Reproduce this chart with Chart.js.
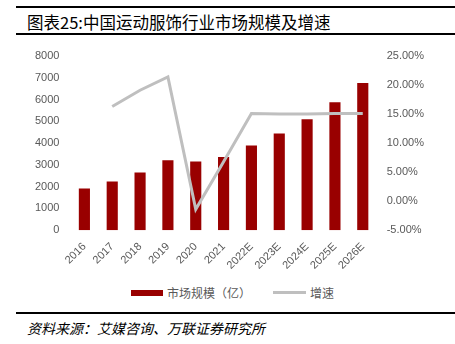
<!DOCTYPE html>
<html>
<head>
<meta charset="utf-8">
<script src="https://cdn.jsdelivr.net/npm/chart.js@4/dist/chart.umd.min.js"></script>
<style>
  html, body { margin: 0; padding: 0; background: #fff; }
  body { width: 455px; height: 344px; position: relative; overflow: hidden; font-family: "Noto Sans CJK SC", sans-serif; }
  .rule { position: absolute; left: 16px; right: 0; height: 2px; background: #000; }
  .title { position: absolute; left: 27px; top: 11px; font-size: 16.5px; line-height: 22px; color: #000; white-space: nowrap; }
  .source { position: absolute; left: 27px; top: 318px; font-size: 14px; line-height: 20px; font-style: italic; color: #000; white-space: nowrap; }
  #wrap { position: absolute; left: 0; top: 36px; width: 455px; height: 240px; }
  .legend { position: absolute; top: 282px; left: 131px; font-size: 12px; line-height: 18px; color: #595959; white-space: nowrap; }
  .legend span { display: inline-block; vertical-align: middle; }
  .sw-bar { width: 32px; height: 6px; background: #990000; margin-right: 4px; }
  .sw-line { width: 33px; height: 3px; background: #BFBFBF; margin-left: 22px; margin-right: 4px; }
</style>
</head>
<body>
<div class="rule" style="top:6px"></div>
<div class="title">图表25:中国运动服饰行业市场规模及增速</div>
<div class="rule" style="top:33px"></div>
<div id="wrap"><canvas id="chart"></canvas></div>
<div class="legend">
  <span class="sw-bar"></span><span>市场规模（亿）</span><span class="sw-line"></span><span>增速</span>
</div>
<div class="rule" style="top:312px"></div>
<div class="source">资料来源：艾媒咨询、万联证券研究所</div>

<script>
// categories and values
const years = ["2016", "2017", "2018", "2019", "2020", "2021", "2022E", "2023E", "2024E", "2025E", "2026E"];
const marketSize = [1910, 2230, 2650, 3210, 3150, 3360, 3890, 4440, 5100, 5870, 6760];
const growthRate = [null, 0.163, 0.191, 0.214, -0.014, 0.068, 0.151, 0.150, 0.150, 0.151, 0.151];

const tickFont = { family: "'Liberation Sans', Arial, sans-serif", size: 11 };
const tickColor = "#595959";

new Chart(document.getElementById("chart"), {
  type: "bar",
  data: {
    labels: years,
    datasets: [
      {
        type: "line",
        label: "增速",
        data: growthRate,
        yAxisID: "y1",
        borderColor: "#BFBFBF",
        backgroundColor: "#BFBFBF",
        borderWidth: 3,
        pointRadius: 0,
        tension: 0,
        order: 0
      },
      {
        label: "市场规模（亿）",
        data: marketSize,
        yAxisID: "y",
        backgroundColor: "#990000",
        barPercentage: 0.4,
        categoryPercentage: 1,
        order: 1
      }
    ]
  },
  options: {
    responsive: true,
    maintainAspectRatio: false,
    animation: false,
    layout: { padding: { left: 24, right: 21, top: 20, bottom: 2 } },
    plugins: { legend: { display: false }, tooltip: { enabled: false } },
    scales: {
      x: {
        grid: { display: false },
        border: { display: false },
        ticks: { font: tickFont, color: tickColor, minRotation: 45, maxRotation: 45, padding: 2 },
        // rotated labels may hang over the side axes, like the original
        afterFit: s => { s.paddingLeft = 0; s.paddingRight = 0; }
      },
      y: {
        position: "left",
        min: 0,
        max: 8000,
        grid: { display: false, drawTicks: false },
        border: { display: false },
        ticks: { stepSize: 1000, font: tickFont, color: tickColor, padding: 11, callback: v => String(v) }
      },
      y1: {
        position: "right",
        min: -0.05,
        max: 0.25,
        grid: { display: false, drawTicks: false },
        border: { display: false },
        ticks: {
          stepSize: 0.05,
          font: tickFont,
          color: tickColor,
          padding: 10,
          callback: v => (Math.round(v * 100 * 100) / 100 + 0).toFixed(2) + "%"
        }
      }
    }
  }
});
</script>
</body>
</html>
